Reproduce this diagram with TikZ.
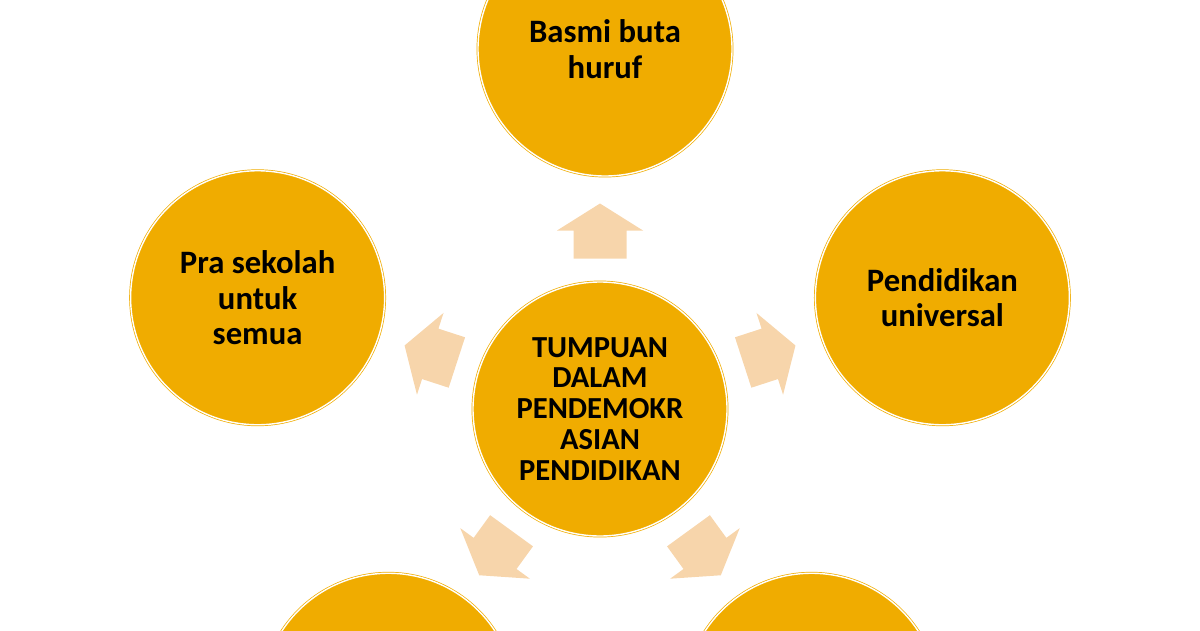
\documentclass[tikz,border=0pt]{standalone}
\usepackage{fontspec}
\setmainfont{Carlito}
\definecolor{Gold}{RGB}{240, 172, 0}
\definecolor{Peach}{RGB}{247, 213, 171}
\usetikzlibrary{positioning}

\begin{document}
\begin{tikzpicture}[
    every node/.style={font=\fontsize{18.6}{20.1}\selectfont\bfseries, align=center},
    petal/.style={circle, fill=Gold, draw=Gold, line width=0.4pt,
                double=white, double distance=0.8pt, minimum size=5.08cm, inner sep=0pt},
    hubtext/.style={font=\fontsize{17.4}{17.6}\selectfont\bfseries}
]
\useasboundingbox (0,0) rectangle (24,12.6);
\clip (0,0) rectangle (24,12.6);

\node[petal, hubtext] (hub) at (12,4.42) {TUMPUAN\\DALAM\\PENDEMOKR\\ASIAN\\PENDIDIKAN};
\node[petal] (huruf) at ([shift={(90:7.2)}, xshift=0.1cm]hub) {Basmi buta\\huruf};
\node[petal] (prasekolah) at ([shift={(162:7.2)}]hub) {Pra sekolah\\untuk\\semua};
\node[petal] (universal) at ([shift={(18:7.2)}]hub) {Pendidikan\\universal};
\node[petal] (kiri) at ([shift={(234:7.2)}]hub) {};
\node[petal] (kanan) at ([shift={(306:7.2)}]hub) {};

% block arrows pointing out of the hub
\foreach \a in {90,162,18,234,306}
  \fill[Peach, shift={(hub)}, rotate=\a]
    (3.01,-0.53) -- (3.57,-0.53) -- (3.57,-0.86) -- (4.11,0)
    -- (3.57,0.86) -- (3.57,0.53) -- (3.01,0.53) -- cycle;
\end{tikzpicture}
\end{document}
